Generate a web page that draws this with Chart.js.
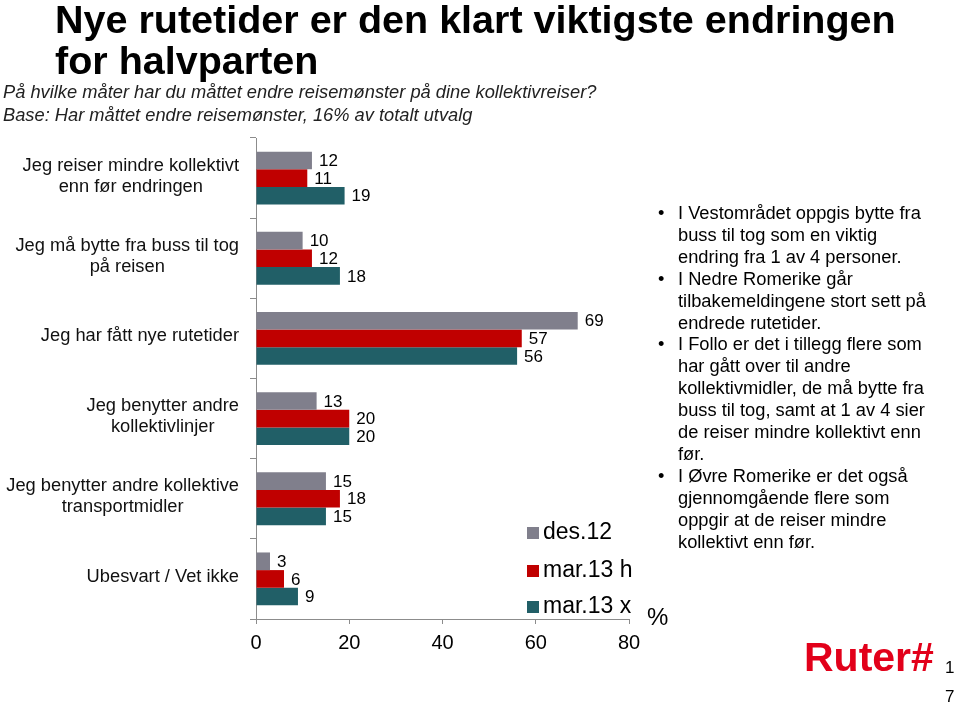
<!DOCTYPE html>
<html lang="no">
<head>
<meta charset="utf-8">
<script src="https://cdn.jsdelivr.net/npm/chart.js@4/dist/chart.umd.min.js"></script>
<style>
  body { margin: 0; width: 960px; height: 707px; position: relative; overflow: hidden; background: #fff; font-family: Arial, "Liberation Sans", sans-serif; }
  #myChart { position: absolute; left: 0; top: 0; }
  .title { position: absolute; left: 55px; top: -1px; font-weight: bold; font-size: 39.5px; line-height: 41px; color: #000; }
  .sub { position: absolute; left: 3px; top: 80px; font-style: italic; font-size: 18.3px; line-height: 23px; color: #222; }
  .notes { position: absolute; left: 658px; top: 202px; font-size: 18.3px; line-height: 21.9px; color: #000; margin: 0; padding: 0; list-style: none; }
  .notes li { position: relative; padding-left: 20px; }
  .notes li::before { content: "•"; position: absolute; left: 0; }
  .pct { position: absolute; left: 647px; top: 603px; font-size: 24px; color: #000; }
  .logo { position: absolute; left: 804px; top: 634px; font-family: "Liberation Sans Narrow", Arial, sans-serif; font-weight: bold; font-size: 41px; color: #e2001a; }
  .page { position: absolute; left: 945px; top: 653px; font-size: 17px; line-height: 29px; color: #000; }
</style>
</head>
<body>
<canvas id="myChart" width="960" height="707"></canvas>
<div class="title">Nye rutetider er den klart viktigste endringen<br>for halvparten</div>
<div class="sub">På hvilke måter har du måttet endre reisemønster på dine kollektivreiser?<br>Base: Har måttet endre reisemønster, 16% av totalt utvalg</div>
<ul class="notes">
  <li>I Vestområdet oppgis bytte fra<br>buss til tog som en viktig<br>endring fra 1 av 4 personer.</li>
  <li>I Nedre Romerike går<br>tilbakemeldingene stort sett på<br>endrede rutetider.</li>
  <li>I Follo er det i tillegg flere som<br>har gått over til andre<br>kollektivmidler, de må bytte fra<br>buss til tog, samt at 1 av 4 sier<br>de reiser mindre kollektivt enn<br>før.</li>
  <li>I Øvre Romerike er det også<br>gjennomgående flere som<br>oppgir at de reiser mindre<br>kollektivt enn før.</li>
</ul>
<div class="pct">%</div>
<div class="logo">Ruter#</div>
<div class="page">1<br>7</div>
<script>
// kategorier (en rad per svaralternativ)
const categories = [
  ['Jeg reiser mindre kollektivt', 'enn før endringen'],
  ['Jeg må bytte fra buss til tog', 'på reisen'],
  ['Jeg har fått nye rutetider'],
  ['Jeg benytter andre', 'kollektivlinjer'],
  ['Jeg benytter andre kollektive', 'transportmidler'],
  ['Ubesvart / Vet ikke']
];

// serier
const seriesNames = ['des.12', 'mar.13 h', 'mar.13 x'];
const des12 = [12, 10, 69, 13, 15, 3];
const mar13h = [11, 12, 57, 20, 18, 6];
const mar13x = [19, 18, 56, 20, 15, 9];
const colors = ['#807f8c', '#c00000', '#215f67'];

// x-akse
const xTicks = [0, 20, 40, 60, 80];

// verdier ved enden av hver stolpe
const valueLabels = {
  id: 'valueLabels',
  afterDatasetsDraw(chart) {
    const ctx = chart.ctx;
    ctx.save();
    ctx.font = '17px Arial, "Liberation Sans", sans-serif';
    ctx.fillStyle = '#000';
    ctx.textAlign = 'left';
    ctx.textBaseline = 'middle';
    chart.data.datasets.forEach((ds, i) => {
      chart.getDatasetMeta(i).data.forEach((bar, j) => {
        ctx.fillText(String(ds.data[j]), bar.x + 7, bar.y + 1);
      });
    });
    ctx.restore();
  }
};

// kategoritekster: hver blokk sentrert på egen bredde, høyrejustert mot aksen
const categoryLabels = {
  id: 'categoryLabels',
  afterDraw(chart) {
    const ctx = chart.ctx;
    const y = chart.scales.y;
    const right = chart.chartArea.left - 17;
    const lh = 21;
    ctx.save();
    ctx.font = '18.3px Arial, "Liberation Sans", sans-serif';
    ctx.fillStyle = '#111';
    ctx.textAlign = 'center';
    ctx.textBaseline = 'middle';
    categories.forEach((lines, i) => {
      const w = Math.max(...lines.map(l => ctx.measureText(l).width));
      const cx = right - w / 2;
      const cy = y.getPixelForValue(i) - (lines.length - 1) * lh / 2 - 2;
      lines.forEach((l, k) => ctx.fillText(l, cx, cy + k * lh));
    });
    ctx.restore();
  }
};

// forklaring nede til høyre i plottet
const legendBox = {
  id: 'legendBox',
  afterDraw(chart) {
    const ctx = chart.ctx;
    const a = chart.chartArea;
    const x0 = a.right - 102;
    const ys = [a.bottom - 86, a.bottom - 48, a.bottom - 12];
    ctx.save();
    ctx.font = '23px Arial, "Liberation Sans", sans-serif';
    ctx.textAlign = 'left';
    ctx.textBaseline = 'middle';
    chart.data.datasets.forEach((ds, i) => {
      ctx.fillStyle = ds.backgroundColor;
      ctx.fillRect(x0, ys[i] - 6, 12, 12);
      ctx.fillStyle = '#000';
      ctx.fillText(ds.label, x0 + 16, ys[i]);
    });
    ctx.restore();
  }
};

const chartCanvas = document.getElementById('myChart');
new Chart(chartCanvas, {
  type: 'bar',
  data: {
    labels: categories,
    datasets: [
      { label: seriesNames[0], data: des12, backgroundColor: colors[0] },
      { label: seriesNames[1], data: mar13h, backgroundColor: colors[1] },
      { label: seriesNames[2], data: mar13x, backgroundColor: colors[2] }
    ]
  },
  options: {
    indexAxis: 'y',
    responsive: false,
    animation: false,
    events: [],
    categoryPercentage: 0.66,
    barPercentage: 1,
    layout: { padding: { top: 138, right: 331, bottom: 0, left: 0 } },
    scales: {
      x: {
        min: xTicks[0],
        max: xTicks[xTicks.length - 1],
        afterFit(scale) { scale.height = 88; },
        afterBuildTicks(scale) { scale.ticks = xTicks.map(v => ({ value: v })); },
        border: { display: true, color: '#8c8c8c', width: 1 },
        grid: { drawOnChartArea: false, drawTicks: true, tickLength: 5, color: '#8c8c8c' },
        ticks: { color: '#000', font: { size: 20, family: 'Arial, "Liberation Sans", sans-serif' }, padding: 7 }
      },
      y: {
        afterFit(scale) { scale.width = 256; },
        border: { display: true, color: '#8c8c8c', width: 1 },
        grid: { drawOnChartArea: false, drawTicks: true, tickLength: 6, color: '#8c8c8c', offset: true },
        ticks: { display: false }
      }
    },
    plugins: {
      legend: { display: false },
      tooltip: { enabled: false }
    }
  },
  plugins: [valueLabels, categoryLabels, legendBox]
});
</script>
</body>
</html>
